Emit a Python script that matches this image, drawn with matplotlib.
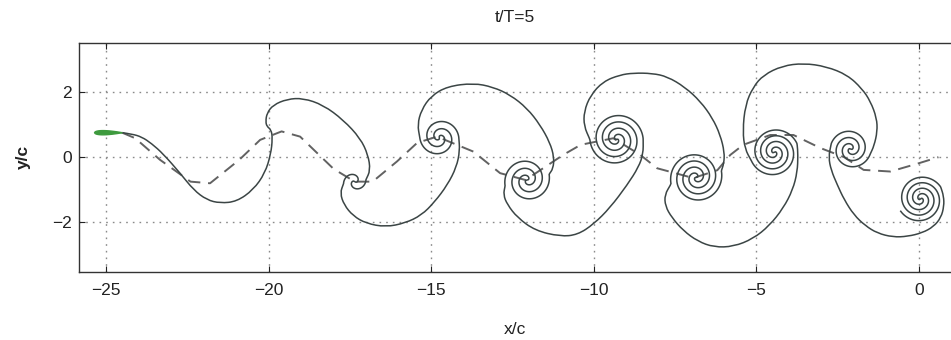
import numpy as np
import matplotlib
matplotlib.use("Agg")
import matplotlib.pyplot as plt
from matplotlib.path import Path
from matplotlib.patches import PathPatch

plt.rcParams['font.family'] = ['Liberation Sans Narrow', 'Liberation Sans', 'DejaVu Sans']

# wake sheet leaving the trailing edge, up to the second vortex
sheet_start = [(-24.5, 0.75), (-24.2, 0.71), (-23.9, 0.62), (-23.6, 0.42), (-23.24, 0.1),
               (-22.72, -0.49), (-22.31, -1.0), (-21.9, -1.31), (-21.49, -1.41), (-20.98, -1.36),
               (-20.47, -1.0), (-20.11, -0.49), (-19.93, 0.1), (-19.88, 0.58), (-19.92, 0.84),
               (-20.05, 0.94), (-20.09, 1.09), (-20.05, 1.35), (-19.86, 1.6), (-19.43, 1.78),
               (-18.94, 1.81), (-18.32, 1.6), (-17.7, 1.14), (-17.18, 0.58), (-16.94, 0.07),
               (-16.87, -0.4)]

# sheet lobes between consecutive vortices
lobes = [
    [(-17.8, -1.1), (-17.68, -1.46), (-17.4, -1.8), (-17.0, -2.03), (-16.4, -2.14), (-15.8, -2.02),
     (-15.3, -1.78), (-14.9, -1.38), (-14.5, -0.85), (-14.22, -0.3), (-14.12, 0.2)],
    [(-15.42, 1.0), (-15.3, 1.45), (-15.0, 1.88), (-14.5, 2.17), (-13.7, 2.27), (-13.1, 2.15),
     (-12.57, 1.91), (-12.05, 1.5), (-11.65, 0.99), (-11.35, 0.45), (-11.22, 0.0), (-11.25, -0.35)],
    [(-12.78, -1.15), (-12.66, -1.45), (-12.35, -1.85), (-11.8, -2.25), (-11.03, -2.43), (-10.5, -2.38),
     (-10.0, -2.05), (-9.5, -1.55), (-8.97, -0.85), (-8.62, -0.3), (-8.48, 0.1)],
    [(-10.3, 0.95), (-10.3, 1.4), (-10.1, 1.9), (-9.71, 2.32), (-9.2, 2.52), (-8.78, 2.58), (-8.2, 2.57),
     (-7.74, 2.47), (-7.2, 2.15), (-6.72, 1.71), (-6.35, 1.2), (-6.11, 0.68), (-5.98, 0.15), (-6.0, -0.2)],
    [(-7.82, -1.15), (-7.8, -1.5), (-7.6, -1.85), (-7.25, -2.25), (-6.8, -2.58), (-6.3, -2.76),
     (-5.7, -2.74), (-5.1, -2.5), (-4.6, -2.1), (-4.17, -1.56), (-3.88, -1.0), (-3.74, -0.45), (-3.72, 0.07)],
    [(-5.35, 0.25), (-5.42, 0.8), (-5.34, 1.6), (-5.1, 2.15), (-4.78, 2.52), (-4.2, 2.8), (-3.55, 2.88),
     (-2.85, 2.78), (-2.2, 2.52), (-1.75, 2.1), (-1.49, 1.71), (-1.3, 1.2), (-1.28, 0.79), (-1.38, 0.35)],
    [(-2.78, 0.0), (-2.7, -0.4), (-2.51, -0.85), (-2.3, -1.3), (-2.0, -1.77), (-1.65, -2.1), (-1.28, -2.33),
     (-0.8, -2.45), (-0.35, -2.43), (0.1, -2.32), (0.45, -2.13), (0.68, -1.85), (0.77, -1.5), (0.76, -1.2)],
]

# rolled-up vortices: centre, outer radius, turns, entry angle (deg), sense (+1 ccw)
vort_x = [-17.35, -14.75, -12.05, -9.3, -6.85, -4.45, -2.1, 0.05]
vort_y = [-0.75, 0.6, -0.7, 0.55, -0.62, 0.15, 0.25, -1.28]
vort_r = [0.35, 0.6, 0.7, 0.82, 0.8, 0.75, 0.62, 0.72]
vort_turns = [0.6, 1.25, 1.5, 2.0, 2.0, 2.0, 1.5, 2.0]
vort_entry = [10, 0, 15, 0, 15, 20, -15, 30]
vort_sense = [-1, 1, -1, 1, -1, 1, -1, 1]

# path of the trailing edge
te_x = [-24.5, -24.1, -23.34, -22.4, -21.8, -20.9, -20.26, -19.6, -19.03, -18.0, -17.35, -16.8,
        -16.05, -15.43, -14.82, -13.7, -12.88, -12.1, -10.94, -10.4, -9.4, -8.57, -8.05, -6.94,
        -6.2, -5.8, -5.4, -4.57, -3.86, -3.03, -2.3, -1.7, -0.88, -0.05, 0.6]
te_y = [0.75, 0.58, -0.08, -0.75, -0.8, -0.08, 0.53, 0.79, 0.63, -0.36, -0.75, -0.75,
        -0.13, 0.44, 0.63, 0.17, -0.49, -0.7, 0.07, 0.38, 0.58, 0.07, -0.34, -0.64,
        -0.4, 0.07, 0.38, 0.68, 0.68, 0.28, 0.0, -0.39, -0.44, -0.2, 0.0]

# airfoil: leading edge, chord, thickness
foil_le = (-25.35, 0.75)
foil_chord = 0.85
foil_thick = 0.13


def double_spiral(cx, cy, R, turns, entry_deg, sense, r0=0.04, n=240):
    t = np.linspace(0, 1, n)
    th0 = np.radians(entry_deg)
    th_in = th0 + sense * 2 * np.pi * turns * t
    r_in = R + (r0 - R) * t
    th_out = th0 + np.pi + sense * 2 * np.pi * turns * (1 - t)
    r_out = r0 + (R - r0) * t
    x = np.concatenate([cx + r_in * np.cos(th_in), cx + r_out * np.cos(th_out)])
    y = np.concatenate([cy + r_in * np.sin(th_in), cy + r_out * np.sin(th_out)])
    return np.column_stack([x, y])


def smooth_path(pts):
    # quadratic bezier through midpoints of the polyline
    pts = np.asarray(pts)
    verts = [pts[0]]
    codes = [Path.MOVETO]
    for i in range(1, len(pts) - 1):
        verts += [pts[i], (pts[i] + pts[i + 1]) / 2]
        codes += [Path.CURVE3, Path.CURVE3]
    verts.append(pts[-1])
    codes.append(Path.LINETO)
    return Path(verts, codes)


pieces = [np.array(sheet_start)]
for i in range(len(vort_x)):
    pieces.append(double_spiral(vort_x[i], vort_y[i], vort_r[i], vort_turns[i],
                                vort_entry[i], vort_sense[i]))
    if i < len(lobes):
        pieces.append(np.array(lobes[i]))
sheet = np.vstack(pieces)

fig = plt.figure(figsize=(9.51, 3.4), dpi=100)
ax = fig.add_axes([79 / 951, 1 - 272 / 340, 891 / 951, 229 / 340])

ax.add_patch(PathPatch(smooth_path(sheet), fill=False, edgecolor='#3b4545', lw=1.1, zorder=3))
ax.plot(te_x, te_y, color='#626262', lw=1.4, dashes=(6.5, 4), zorder=2)

# NACA-like symmetric section
s = np.linspace(0, 1, 60)
half = 5 * foil_thick * (0.2969 * np.sqrt(s) - 0.126 * s - 0.3516 * s**2 + 0.2843 * s**3 - 0.1036 * s**4)
fx = foil_le[0] + foil_chord * np.concatenate([s, s[::-1]])
fy = foil_le[1] + np.concatenate([half, -half[::-1]])
ax.fill(fx, fy, color='#3e9a3e', zorder=4)

ax.set_xlim(-25.83, 1.57)
ax.set_ylim(-3.52, 3.5)
ax.set_xticks([-25, -20, -15, -10, -5, 0])
ax.set_yticks([-2, 0, 2])
ax.set_xticklabels(['\u221225', '\u221220', '\u221215', '\u221210', '\u22125', '0'])
ax.set_yticklabels(['\u22122', '0', '2'])
ax.grid(True, color='#8a8a8a', lw=1.0, dashes=(1.2, 3.6))
ax.tick_params(direction='in', top=True, right=True, length=4, width=0.8,
               labelsize=12.5, colors='#222222')
ax.tick_params(axis='x', pad=8)
ax.tick_params(axis='y', pad=5)
for sp in ax.spines.values():
    sp.set_color('#333333')
    sp.set_linewidth(1.0)

fig.text(515 / 951, 1 - 18 / 340, 't/T=5', ha='center', va='center', fontsize=12.5, color='#222222')
fig.text(515 / 951, 1 - 329 / 340, 'x/c', ha='center', va='center', fontsize=12.5, color='#222222')
fig.text(23 / 951, 1 - 157 / 340, 'y/c', ha='center', va='center', rotation=90,
         fontsize=12.5, fontweight='bold', color='#222222')

fig.savefig('out.png', dpi=100)
